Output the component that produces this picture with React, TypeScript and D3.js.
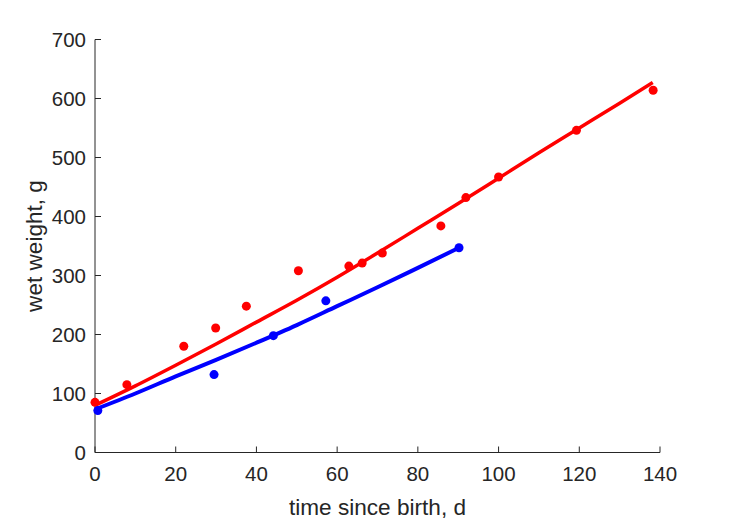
import React from "react";
import * as d3 from "d3";

const xTicks = [0, 20, 40, 60, 80, 100, 120, 140];
const yTicks = [0, 100, 200, 300, 400, 500, 600, 700];

const redDataX = [0, 7.9, 22, 29.9, 37.5, 50.4, 62.9, 66.2, 71.2, 85.7, 91.9, 100, 119.3, 138.3];
const redDataY = [85, 115, 180, 211, 248, 308, 316, 321, 338, 384, 432, 467, 546, 614];

const blueDataX = [0.7, 29.5, 44.2, 57.2, 90.2];
const blueDataY = [71, 132, 198, 257, 347];

const redFitX = [0, 10, 20, 30, 40, 50, 60, 70, 80, 90, 100, 110, 120, 130, 138.2];
const redFitY = [80, 113, 148, 184, 221, 258, 297, 338, 380, 422, 465, 508, 550, 592, 627];

const blueFitX = [0, 10, 20, 30, 40, 50, 60, 70, 80, 90.2];
const blueFitY = [73, 100, 129, 157, 186, 216, 248, 280, 313, 347];

const W = 729;
const H = 521;
const left = 95;
const right = 660;
const top = 39.5;
const bottom = 452.5;
const axisColor = "#262626";
const font = "'Liberation Sans', Arial, Helvetica, sans-serif";
const tickFont = 20.5;
const labelFont = 22.6;

export default function App() {
  const x = d3.scaleLinear().domain([0, 140]).range([left, right]);
  const y = d3.scaleLinear().domain([0, 700]).range([bottom, top]);
  const line = d3
    .line<[number, number]>()
    .x((d) => x(d[0]))
    .y((d) => y(d[1]))
    .curve(d3.curveMonotoneX);
  const red: [number, number][] = redFitX.map((v, i) => [v, redFitY[i]]);
  const blue: [number, number][] = blueFitX.map((v, i) => [v, blueFitY[i]]);

  return (
    <svg
      width={W}
      height={H}
      style={{ position: "absolute", left: 0, top: 0, background: "#fff" }}
    >
      <rect x={0} y={0} width={W} height={H} fill="#fff" />
      {/* axes */}
      <line x1={left} x2={right} y1={bottom} y2={bottom} stroke={axisColor} strokeWidth={1} />
      <line x1={left} x2={left} y1={top} y2={bottom} stroke={axisColor} strokeWidth={1} />
      {xTicks.map((t) => (
        <g key={"x" + t}>
          <line x1={x(t)} x2={x(t)} y1={bottom} y2={bottom - 6} stroke={axisColor} strokeWidth={1} />
          <text
            x={x(t)}
            y={bottom + 28}
            textAnchor="middle"
            fontFamily={font}
            fontSize={tickFont}
            fill={axisColor}
          >
            {t}
          </text>
        </g>
      ))}
      {yTicks.map((t) => (
        <g key={"y" + t}>
          <line x1={left} x2={left + 6} y1={y(t)} y2={y(t)} stroke={axisColor} strokeWidth={1} />
          <text
            x={left - 9}
            y={y(t) + 7.3}
            textAnchor="end"
            fontFamily={font}
            fontSize={tickFont}
            fill={axisColor}
          >
            {t}
          </text>
        </g>
      ))}
      <text
        x={(left + right) / 2}
        y={515}
        textAnchor="middle"
        fontFamily={font}
        fontSize={labelFont}
        fill={axisColor}
      >
        time since birth, d
      </text>
      <text
        transform={`translate(42, ${(top + bottom) / 2}) rotate(-90)`}
        textAnchor="middle"
        fontFamily={font}
        fontSize={labelFont}
        fill={axisColor}
      >
        wet weight, g
      </text>
      {/* fits */}
      <path d={line(blue) || ""} fill="none" stroke="#0000ff" strokeWidth={4} />
      <path d={line(red) || ""} fill="none" stroke="#ff0000" strokeWidth={3.5} />
      {/* data */}
      {redDataX.map((v, i) => (
        <circle key={"r" + i} cx={x(v)} cy={y(redDataY[i])} r={4.5} fill="#ff0000" />
      ))}
      {blueDataX.map((v, i) => (
        <circle key={"b" + i} cx={x(v)} cy={y(blueDataY[i])} r={4.5} fill="#0000ff" />
      ))}
    </svg>
  );
}
